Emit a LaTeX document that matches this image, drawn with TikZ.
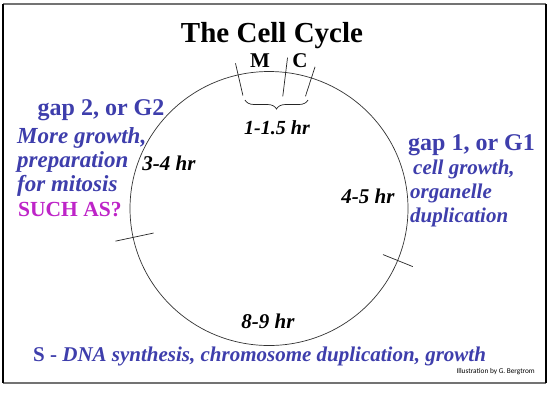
\documentclass[tikz,border=0pt]{standalone}
\usepackage{fontspec}
\setmainfont{Liberation Serif}
\newfontfamily\credfont{Carlito}
\usetikzlibrary{decorations.pathreplacing,calc}
\definecolor{gapblue}{RGB}{62,62,172}
\definecolor{askmag}{RGB}{190,36,200}
\begin{document}
\begin{tikzpicture}[x=1pt,y=-1pt,
  txt/.style={inner sep=0pt, anchor=base},
  ltxt/.style={inner sep=0pt, anchor=base west},
  big/.style={font=\fontsize{24}{28}\selectfont\bfseries},
  mid/.style={font=\fontsize{21}{25}\selectfont\bfseries},
  bigit/.style={font=\fontsize{23}{27}\selectfont\bfseries\itshape},
  midit/.style={font=\fontsize{21}{25}\selectfont\bfseries\itshape},
  hrs/.style={txt, font=\fontsize{21}{24}\selectfont\bfseries\itshape},
  cyc/.style={draw=black!80, line width=0.7pt},
  tick/.style={draw=black!85, line width=0.7pt}]
\useasboundingbox (0,0) rectangle (553,392);
\fill[white] (0,0) rectangle (553,392);
% frame
\draw[black!55, line width=1.6pt] (3,4) -- (546,4);
\draw[black!55, line width=1.6pt] (3,383) -- (546,383);
\draw[black, line width=1.4pt] (3,4) -- (3,383);
\draw[black, line width=1.4pt] (546,4) -- (546,383);
% cycle
\coordinate (ctr) at (269,208.5);
\draw[cyc] (ctr) ellipse[x radius=139, y radius=137];
\draw[tick] ($(ctr)+(103:116pt)$) -- ($(ctr)+(103:149pt)$);
\draw[tick] ($(ctr)+(83:113pt)$) -- ($(ctr)+(83:152pt)$);
\draw[tick] ($(ctr)+(72:118pt)$) -- ($(ctr)+(72:149pt)$);
\draw[tick] ($(ctr)+(192:118pt)$) -- ($(ctr)+(192:157pt)$);
\draw[tick] ($(ctr)+(-22:123pt)$) -- ($(ctr)+(-22:155pt)$);
\coordinate (bl) at (245,100);
\coordinate (br) at (308,100);
\draw[black!85, line width=0.7pt, decorate, decoration={brace, mirror, amplitude=9pt}] (bl) -- (br);
% texts
\node[txt, font=\fontsize{29}{34}\selectfont\bfseries] (title) at (272,42) {The Cell Cycle};
\node[txt, mid] (m) at (260,67) {M};
\node[txt, mid] (c) at (300,67) {C};
\node[txt, font=\fontsize{20}{24}\selectfont\bfseries\itshape] (mc) at (277,134) {1-1.5 hr};
\node[hrs] (g2h) at (169,170) {3-4 hr};
\node[hrs] (g1h) at (368,203) {4-5 hr};
\node[hrs] (sh) at (268,328) {8-9 hr};
% G2 block
\node[txt, big, text=gapblue] (g2) at (101,115) {gap 2, or G2};
\node[ltxt, bigit, text=gapblue] (g2a) at (17,143) {More growth,};
\node[ltxt, bigit, text=gapblue] (g2b) at (17,167) {preparation};
\node[ltxt, bigit, text=gapblue] (g2c) at (17,191) {for mitosis};
\node[ltxt, font=\fontsize{21.5}{25}\selectfont\bfseries, text=askmag] (ask) at (18,216) {SUCH AS?};
% G1 block
\node[ltxt, big, text=gapblue] (g1) at (408,150) {gap 1, or G1};
\node[ltxt, midit, text=gapblue] (g1a) at (413,174) {cell growth,};
\node[ltxt, midit, text=gapblue] (g1b) at (410,198) {organelle};
\node[ltxt, midit, text=gapblue] (g1c) at (410,222) {duplication};
% S
\node[ltxt, mid, text=gapblue] (s) at (33,361) {S - \textit{DNA synthesis, chromosome duplication, growth}};
\node[inner sep=0pt, anchor=base east, font=\credfont\fontsize{7.3}{9}\selectfont] (credit) at (535,373) {Illustration by G. Bergtrom};
\end{tikzpicture}
\end{document}
